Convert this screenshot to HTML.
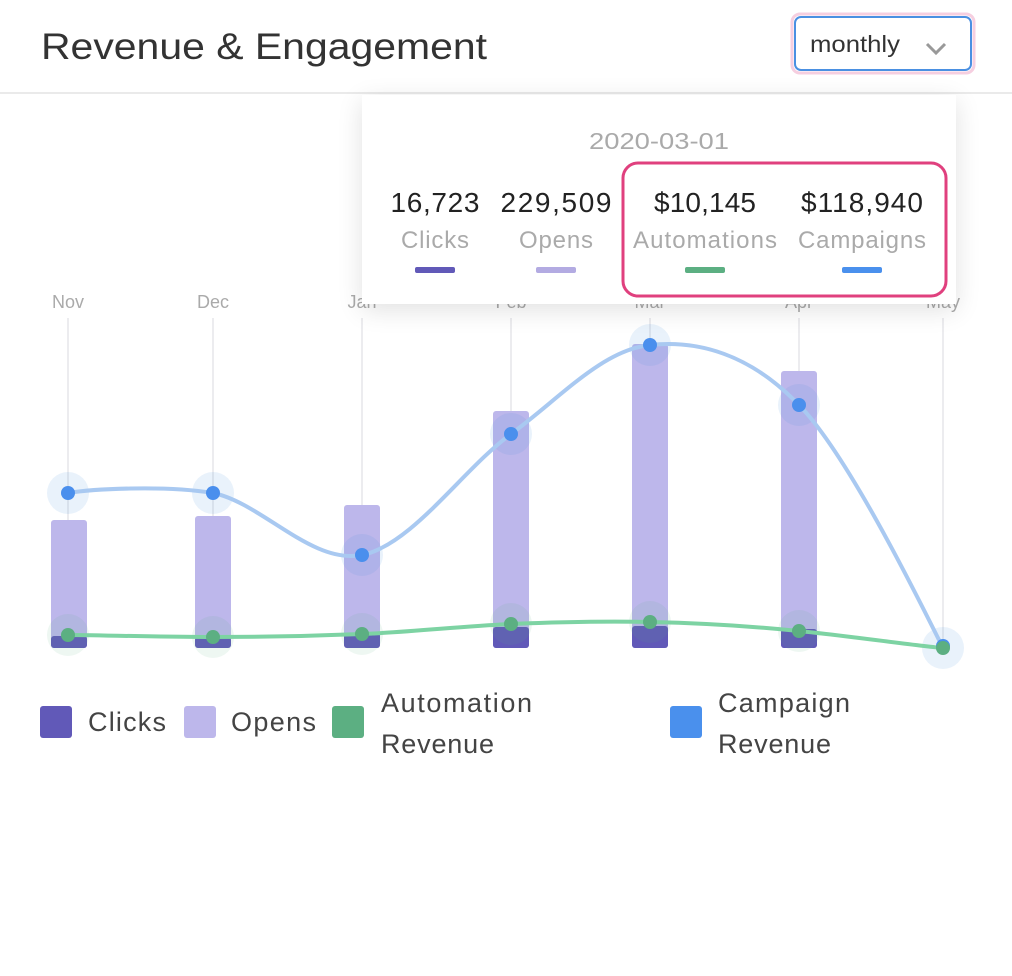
<!DOCTYPE html>
<html><head><meta charset="utf-8"><style>
html,body{margin:0;padding:0;background:#fff;width:1012px;height:976px;overflow:hidden;font-family:"Liberation Sans",sans-serif}
#tt{position:absolute;left:362px;top:95px;width:594px;height:209px;background:#fff;box-shadow:0 6px 24px rgba(0,0,0,0.12);}
</style></head><body>
<svg width="1012" height="976" style="position:absolute;left:0;top:0" font-family="Liberation Sans, sans-serif">
<text x="41" y="59" font-size="37" fill="#333" textLength="446" lengthAdjust="spacingAndGlyphs">Revenue &amp; Engagement</text>
<rect x="792" y="14" width="182" height="59" rx="8" fill="none" stroke="#f6cfe0" stroke-width="3"/>
<rect x="795" y="17" width="176" height="53" rx="6" fill="#fff" stroke="#4a90e2" stroke-width="2"/>
<text x="810" y="52" font-size="23" fill="#333" textLength="90" lengthAdjust="spacingAndGlyphs">monthly</text>
<path d="M927 44 L936 53 L945 44" fill="none" stroke="#999" stroke-width="3"/>
<line x1="0" y1="93" x2="1012" y2="93" stroke="#eaeaea" stroke-width="2"/>
<g font-size="18" fill="#aaa" text-anchor="middle">
<text x="68" y="308">Nov</text><text x="213" y="308">Dec</text><text x="362" y="308">Jan</text><text x="511" y="308">Feb</text><text x="650" y="308">Mar</text><text x="799" y="308">Apr</text><text x="943" y="308">May</text>
</g>
<g stroke="#e6e6ea" stroke-width="1.5">
<line x1="68" y1="318" x2="68" y2="648"/><line x1="213" y1="318" x2="213" y2="648"/><line x1="362" y1="318" x2="362" y2="648"/><line x1="511" y1="318" x2="511" y2="648"/><line x1="650" y1="318" x2="650" y2="648"/><line x1="799" y1="318" x2="799" y2="648"/><line x1="943" y1="318" x2="943" y2="648"/>
</g>
<g fill="#bdb7eb">
<rect x="51" y="520" width="36" height="128" rx="3"/><rect x="195" y="516" width="36" height="132" rx="3"/><rect x="344" y="505" width="36" height="143" rx="3"/><rect x="493" y="411" width="36" height="237" rx="3"/><rect x="632" y="344" width="36" height="304" rx="3"/><rect x="781" y="371" width="36" height="277" rx="3"/>
</g>
<g fill="#6159b8">
<rect x="51" y="636" width="36" height="12" rx="3"/><rect x="195" y="637" width="36" height="11" rx="3"/><rect x="344" y="633" width="36" height="15" rx="3"/><rect x="493" y="627" width="36" height="21" rx="3"/><rect x="632" y="626" width="36" height="22" rx="3"/><rect x="781" y="629" width="36" height="19" rx="3"/>
</g>
<g fill="#4a90e2" opacity="0.12">
<circle cx="68" cy="493" r="21"/><circle cx="213" cy="493" r="21"/><circle cx="362" cy="555" r="21"/><circle cx="511" cy="434" r="21"/><circle cx="650" cy="345" r="21"/><circle cx="799" cy="405" r="21"/><circle cx="943" cy="648" r="21"/>
</g>
<g fill="#5caf82" opacity="0.1">
<circle cx="68" cy="635" r="21"/><circle cx="213" cy="637" r="21"/><circle cx="362" cy="634" r="21"/><circle cx="511" cy="624" r="21"/><circle cx="650" cy="622" r="21"/><circle cx="799" cy="631" r="21"/>
</g>
<path d="M68 493 C92 489 164 485 213 493 C262 503 312 565 362 555 C412 545 463 469 511 434 C559 399 602 350 650 345 C698 340 750 354 799 405 C848 455 919 600 943 648" fill="none" stroke="#a9c9f1" stroke-width="4"/>
<path d="M68 635 C92 635 164 637 213 637 C262 637 312 636 362 634 C412 632 463 626 511 624 C559 622 602 621 650 622 C698 623 750 626 799 631 C848 636 919 646 943 648" fill="none" stroke="#7dd3a3" stroke-width="4"/>
<g fill="#4a8fed">
<circle cx="68" cy="493" r="7"/><circle cx="213" cy="493" r="7"/><circle cx="362" cy="555" r="7"/><circle cx="511" cy="434" r="7"/><circle cx="650" cy="345" r="7"/><circle cx="799" cy="405" r="7"/><circle cx="943" cy="646" r="7"/>
</g>
<g fill="#5caf82">
<circle cx="68" cy="635" r="7"/><circle cx="213" cy="637" r="7"/><circle cx="362" cy="634" r="7"/><circle cx="511" cy="624" r="7"/><circle cx="650" cy="622" r="7"/><circle cx="799" cy="631" r="7"/><circle cx="943" cy="648" r="7"/>
</g>
<rect x="40" y="706" width="32" height="32" rx="3" fill="#6159b8"/>
<rect x="184" y="706" width="32" height="32" rx="3" fill="#bdb7eb"/>
<rect x="332" y="706" width="32" height="32" rx="3" fill="#5caf82"/>
<rect x="670" y="706" width="32" height="32" rx="3" fill="#4a90ed"/>
<g font-size="27" fill="#444" lengthAdjust="spacingAndGlyphs">
<text x="88" y="731" textLength="78">Clicks</text><text x="231" y="731" textLength="85">Opens</text>
<text x="381" y="712" textLength="151">Automation</text><text x="381" y="753" textLength="113">Revenue</text>
<text x="718" y="712" textLength="132">Campaign</text><text x="718" y="753" textLength="113">Revenue</text>
</g>
</svg>
<div id="tt"></div>
<svg width="1012" height="976" style="position:absolute;left:0;top:0" font-family="Liberation Sans, sans-serif">
<text x="659" y="149" font-size="23" fill="#aaa" text-anchor="middle" textLength="140" lengthAdjust="spacingAndGlyphs">2020-03-01</text>
<rect x="623" y="163" width="323" height="133" rx="15" fill="none" stroke="#e0407e" stroke-width="3"/>
<g font-size="28" fill="#222" text-anchor="middle" lengthAdjust="spacingAndGlyphs">
<text x="435" y="212" textLength="89">16,723</text><text x="556" y="212" textLength="111">229,509</text><text x="705" y="212" textLength="102">$10,145</text><text x="862" y="212" textLength="122">$118,940</text>
</g>
<g font-size="24" fill="#aaa" text-anchor="middle" lengthAdjust="spacingAndGlyphs">
<text x="435" y="248" textLength="68">Clicks</text><text x="556" y="248" textLength="74">Opens</text><text x="705" y="248" textLength="144">Automations</text><text x="862" y="248" textLength="128">Campaigns</text>
</g>
<rect x="415" y="267" width="40" height="6" rx="2" fill="#6159b8"/>
<rect x="536" y="267" width="40" height="6" rx="2" fill="#b3abe2"/>
<rect x="685" y="267" width="40" height="6" rx="2" fill="#5caf82"/>
<rect x="842" y="267" width="40" height="6" rx="2" fill="#4a90ed"/>
</svg>
</body></html>
